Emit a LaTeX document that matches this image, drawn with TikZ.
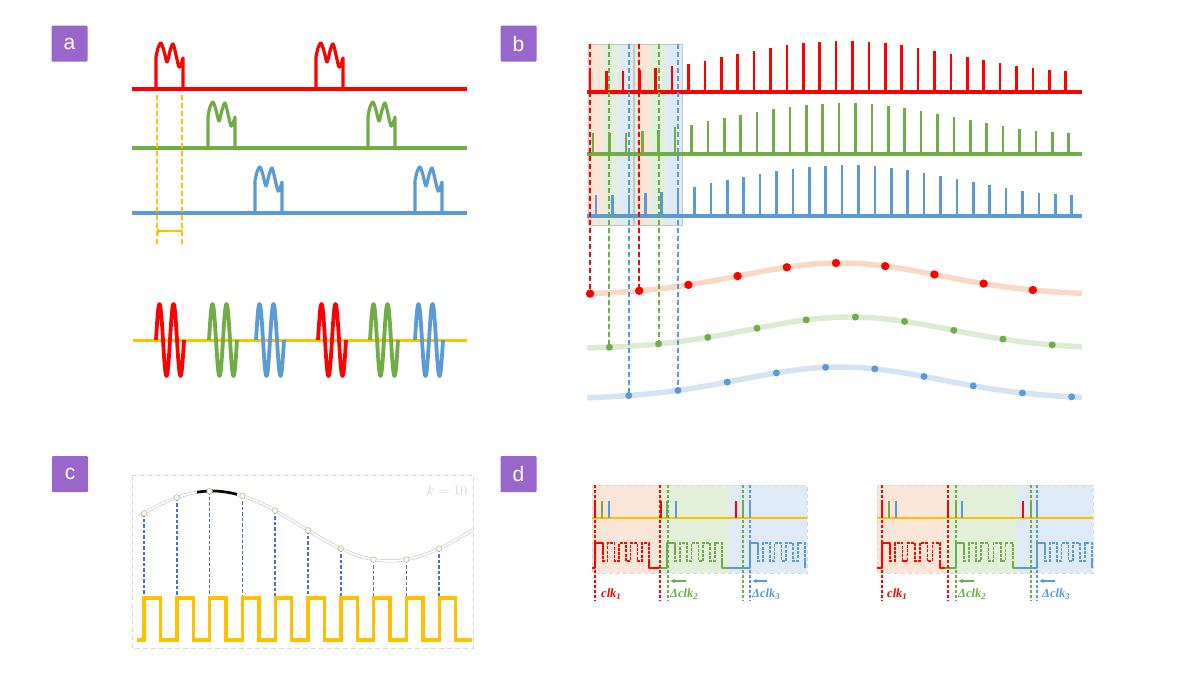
\documentclass[tikz,border=0pt]{standalone}
\usepackage{fontspec}
\setmainfont{Liberation Sans}
\newfontfamily\serifbf{Liberation Serif}
\usetikzlibrary{arrows.meta}
\definecolor{cR}{HTML}{FF0000}
\definecolor{cG}{HTML}{70AD47}
\definecolor{cB}{HTML}{5B9BD5}
\definecolor{cY}{HTML}{FFC000}
\definecolor{cP}{HTML}{9966CC}
\definecolor{bandR}{HTML}{FBE5D6}
\definecolor{bandG}{HTML}{E2F0D9}
\definecolor{bandB}{HTML}{DEEBF7}
\definecolor{crvR}{HTML}{F9D8C6}
\definecolor{crvG}{HTML}{DCEBD2}
\definecolor{crvB}{HTML}{D5E4F3}
\definecolor{cDB}{HTML}{4472C4}
\newcommand{\apulse}[3]{\begin{scope}[shift={(#1,#2)}]
\draw[#3, line width=3.2, line join=round] (0,0) -- (0,-32) -- plot[smooth] coordinates {(0,-32) (2,-41) (5,-46) (8,-38) (11,-27) (14,-38) (17,-45) (20,-34) (23,-22) (25.5,-26) (27,-31)} -- (27,0);
\end{scope}}
\newcommand{\wpk}[2]{\draw[#2, line width=3.8, line join=round] plot[smooth, domain=0:28, samples=60] ({#1+\x},{340-36*sin(25.714*\x)});}
% d clock: #1 band start, #2 rise x, #3 period, #4 colour, #5 tail end
\newcommand{\dclk}[5]{%
\pgfmathsetmacro\xend{#2+8+4*#3}%
\draw[#4, line width=2, line join=round] (#1,568) -- (#2,568) -- (#2,543) -- ++(8,0) -- ++(0,9);
\draw[#4, line width=1.6, dash pattern=on 3pt off 1.2pt] ({#2+8},552) -- ++(0,9)
 \foreach \i in {1,...,4}{ -- ++({0.4*#3},0) -- ++(0,-18) -- ++({0.6*#3},0) -- ++(0,18)};
\draw[#4, line width=2, line join=round] (\xend,561) -- (\xend,568) -- (#5,568);}
\begin{document}
\begin{tikzpicture}[x=1pt,y=-1pt,
 declare function={fr(\t)=295-32*exp(-((\t-840)/100)*((\t-840)/100)/2);
                   fg(\t)=349-32*exp(-((\t-850)/100)*((\t-850)/100)/2);
                   fb(\t)=399-32*exp(-((\t-840)/100)*((\t-840)/100)/2);
                   fc(\t)=526-35*cos(1.011236*(\t-212));
                   hh(\t)=36+15*cos(0.77*(\t-845));},
 panellabel/.style={fill=cP, text=white, minimum width=36pt, minimum height=36pt, inner sep=0pt, rounded corners=1pt, font=\fontsize{21}{21}\selectfont},
 sig/.style={line width=3.2, line join=round},
 spk/.style={line width=2.6},
 vdash/.style={line width=2, dash pattern=on 5pt off 3pt},
 ddash/.style={line width=1.4, dash pattern=on 3pt off 2pt},
 dlab/.style={anchor=west, inner sep=0pt, font=\fontsize{12.5}{12.5}\selectfont\serifbf\bfseries\itshape},
 sarr/.style={line width=1.2, -{Latex[length=4.5pt,width=4.5pt]}}]
\useasboundingbox (0,0) rectangle (1200,675);
\fill[white] (0,0) rectangle (1200,675);

% ---------- panel labels ----------
\node[panellabel] (la) at (69.5,43.5) {a};
\node[panellabel] (lb) at (518.5,43.5) {b};
\node[panellabel] (lc) at (70,474) {c};
\node[panellabel] (ld) at (518.5,474) {d};

% ---------- panel a ----------
\draw[cR, sig] (132,89) -- (467,89);
\draw[cG, sig] (132,148) -- (467,148);
\draw[cB, sig] (132,213) -- (467,213);
\apulse{156}{89}{cR}
\apulse{316}{89}{cR}
\apulse{208}{148}{cG}
\apulse{368}{148}{cG}
\apulse{255}{213}{cB}
\apulse{415}{213}{cB}
\coordinate (ya1) at (157,95); \coordinate (yb1) at (157,247);
\coordinate (ya2) at (182,95); \coordinate (yb2) at (182,247);
\draw[cY, line width=1.8, dash pattern=on 5pt off 3pt] (ya1) -- (yb1);
\draw[cY, line width=1.8, dash pattern=on 5pt off 3pt] (ya2) -- (yb2);
\coordinate (arl) at (157,231); \coordinate (arr) at (182,231);
\draw[cY, line width=1.5, {Bar[width=5pt]Latex[length=3pt,width=3.5pt]}-{Latex[length=3pt,width=3.5pt]Bar[width=5pt]}] (arl) -- (arr);

\draw[cY, line width=3] (133,340) -- (467,340);
\wpk{156}{cR}
\wpk{209}{cG}
\wpk{256}{cB}
\wpk{318}{cR}
\wpk{370}{cG}
\wpk{415}{cB}

% ---------- panel b ----------
\fill[bandR] (588,44) rectangle (603,225);
\fill[bandG] (603,44) rectangle (618,225);
\fill[bandB] (618,44) rectangle (633,225);
\fill[bandR] (634,44) rectangle (650,225);
\fill[bandG] (650,44) rectangle (666,225);
\fill[bandB] (666,44) rectangle (682,225);
\draw[gray!45, line width=0.7] (588,44) rectangle (633,225);
\draw[gray!45, line width=0.7] (634,44) rectangle (682,225);

\draw[cR, line width=3.4] (587,92) -- (1082,92);
\draw[cG, line width=3.4] (587,154) -- (1082,154);
\draw[cB, line width=3.4] (587,216) -- (1082,216);
\foreach \k in {0,...,29}{
  \pgfmathsetmacro\xr{590+16.4*\k}
  \pgfmathsetmacro\xg{593+16.4*\k}
  \pgfmathsetmacro\xb{596+16.4*\k}
  \draw[cR, spk] (\xr,92) -- (\xr,{92-hh(\xr)});
  \draw[cG, spk] (\xg,154) -- (\xg,{154-hh(\xg+3)});
  \draw[cB, spk] (\xb,216) -- (\xb,{216-hh(\xb)});
}

\draw[crvR, line width=5.5] plot[domain=587:1082, samples=90] (\x,{fr(\x)});
\draw[crvG, line width=5.5] plot[domain=587:1082, samples=90] (\x,{fg(\x)});
\draw[crvB, line width=5.5] plot[domain=587:1082, samples=90] (\x,{fb(\x)});

\foreach \xx/\cc/\ff in {590/cR/fr, 639.2/cR/fr, 609.4/cG/fg, 658.6/cG/fg, 628.8/cB/fb, 678/cB/fb}{
  \coordinate (top) at (\xx,44);
  \coordinate (bot) at (\xx,{\ff(\xx)});
  \draw[\cc, vdash] (top) -- (bot);
}
\foreach \m in {0,...,9}{
  \pgfmathsetmacro\xr{590+49.2*\m}
  \pgfmathsetmacro\xg{609.4+49.2*\m}
  \pgfmathsetmacro\xb{628.8+49.2*\m}
  \fill[cR] (\xr,{fr(\xr)}) circle (4.2);
  \fill[cG] (\xg,{fg(\xg)}) circle (3.5);
  \fill[cB] (\xb,{fb(\xb)}) circle (3.5);
}

% ---------- panel c ----------
\draw[gray!30, line width=0.9, dash pattern=on 5pt off 3pt] (132,475) rectangle (473,648);
\node[anchor=east, text=gray!35, font=\fontsize{15}{15}\selectfont] (klab) at (471,490) {$k=10$};
\draw[gray!45, line width=0.6, double=white, double distance=1.8pt] plot[domain=140:473, samples=80] (\x,{fc(\x)});
\draw[black, line width=2.6] plot[domain=197:237, samples=15] (\x,{fc(\x)});
\foreach \k in {0,...,9}{
  \pgfmathsetmacro\xc{144+32.8*\k}
  \coordinate (cp) at (\xc,{fc(\xc)});
  \coordinate (cq) at (\xc,598);
  \draw[cDB, line width=1.5, dash pattern=on 3.5pt off 2pt] (cp) -- (cq);
}
\draw[cY, line width=3.4, line join=miter] (137,640) -- (144,640)
  \foreach \k in {0,...,9}{ -- ({144+32.8*\k},640) -- ({144+32.8*\k},598) -- ({160.4+32.8*\k},598) -- ({160.4+32.8*\k},640)} -- (472,640);
\foreach \k in {0,...,9}{
  \pgfmathsetmacro\xc{144+32.8*\k}
  \filldraw[fill=yellow!15, draw=gray!55, line width=0.6] (\xc,{fc(\xc)}) circle (2.8);
}

% ---------- panel d (left) ----------
\fill[bandR] (592,485) rectangle (659,573);
\fill[bandG] (659,485) rectangle (729,573);
\fill[bandB] (729,485) rectangle (807,573);
\draw[gray!30, line width=0.9, dash pattern=on 4pt off 3pt] (592,485) rectangle (807,573);
\draw[cY, line width=2.4] (592,518) -- (807,518);
\foreach \xx/\cc in {595/cR, 602/cG, 609/cB, 661/cR, 667/cG, 676/cB, 736/cR, 743/cG, 750/cB}{
  \draw[\cc, line width=2.2] (\xx,518) -- (\xx,501);
}
\dclk{592}{595}{11.5}{cR}{659}
\dclk{659}{667}{11.75}{cG}{729}
\dclk{729}{750}{11.75}{cB}{805}
\foreach \xx/\cc in {595/cR, 660/cR, 668/cG, 743/cG, 750/cB}{
  \draw[\cc, ddash] (\xx,485) -- (\xx,601);
}
\node[dlab, text=cR] (d1a) at (601,594) {clk\textsubscript{1}};
\node[dlab, text=cG] (d1b) at (670,594) {Δclk\textsubscript{2}};
\node[dlab, text=cB] (d1c) at (752,594) {Δclk\textsubscript{3}};
\coordinate (g1s) at (686,581); \coordinate (g1e) at (670,581);
\coordinate (b1s) at (767,581); \coordinate (b1e) at (752,581);
\draw[cG, sarr] (g1s) -- (g1e);
\draw[cB, sarr] (b1s) -- (b1e);

% ---------- panel d (right) ----------
\fill[bandR] (877,485) rectangle (945,573);
\fill[bandG] (945,485) rectangle (1017,573);
\fill[bandB] (1017,485) rectangle (1093,573);
\draw[gray!30, line width=0.9, dash pattern=on 4pt off 3pt] (877,485) rectangle (1093,573);
\draw[cY, line width=2.4] (877,518) -- (1093,518);
\foreach \xx/\cc in {882/cR, 889/cG, 896/cB, 948/cR, 956/cG, 962/cB, 1023/cR, 1031/cG, 1037/cB}{
  \draw[\cc, line width=2.2] (\xx,518) -- (\xx,501);
}
\dclk{877}{882}{12.5}{cR}{945}
\dclk{945}{956}{12.25}{cG}{1017}
\dclk{1017}{1037}{11.75}{cB}{1092}
\foreach \xx/\cc in {882/cR, 948/cR, 956/cG, 1031/cG, 1037/cB}{
  \draw[\cc, ddash] (\xx,485) -- (\xx,601);
}
\node[dlab, text=cR] (d2a) at (887,594) {clk\textsubscript{1}};
\node[dlab, text=cG] (d2b) at (958,594) {Δclk\textsubscript{2}};
\node[dlab, text=cB] (d2c) at (1042,594) {Δclk\textsubscript{3}};
\coordinate (g2s) at (974,581); \coordinate (g2e) at (958,581);
\coordinate (b2s) at (1055,581); \coordinate (b2e) at (1039,581);
\draw[cG, sarr] (g2s) -- (g2e);
\draw[cB, sarr] (b2s) -- (b2e);
\end{tikzpicture}
\end{document}
